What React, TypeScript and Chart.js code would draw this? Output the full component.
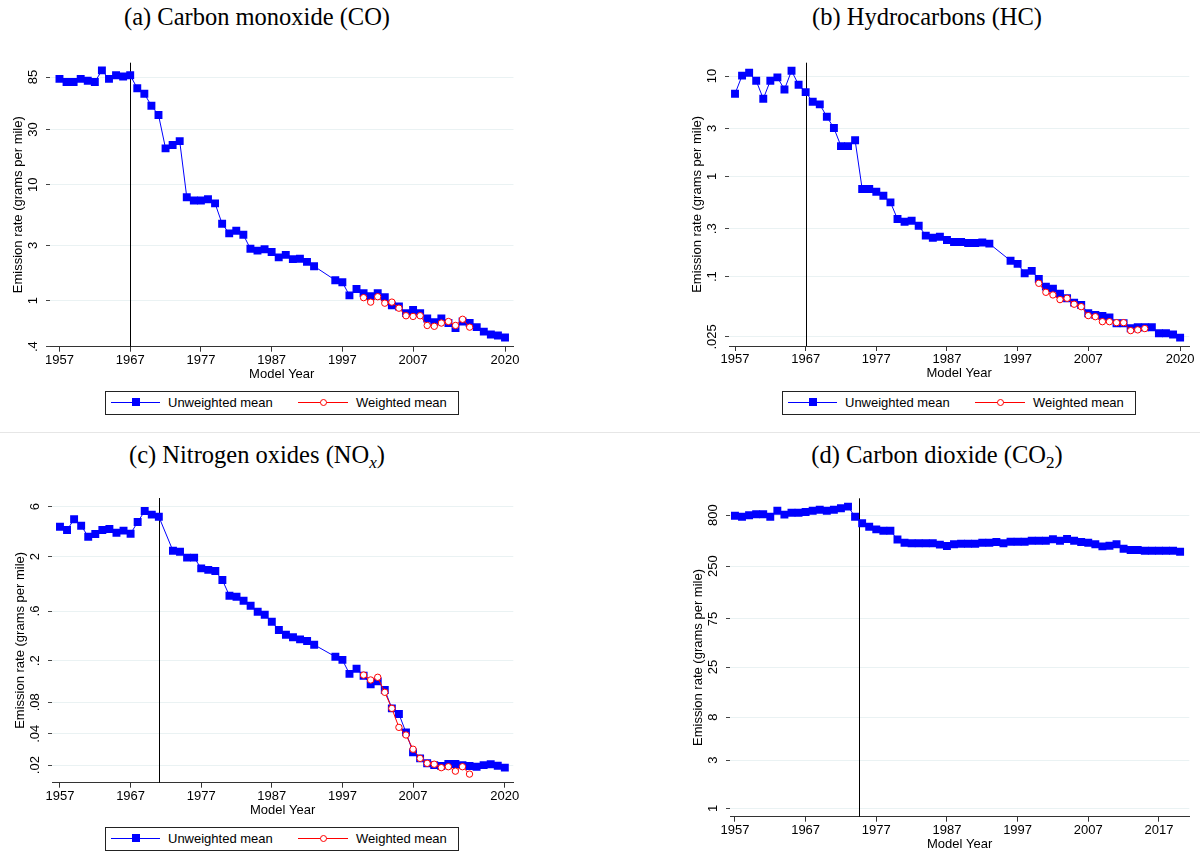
import React, { useEffect, useRef } from "react";
import { Chart, registerables } from "chart.js";
Chart.register(...registerables);

const range = (a: number, b: number): number[] => {
  const r: number[] = [];
  for (let y = a; y <= b; y++) r.push(y);
  return r;
};

// ---------- categories (model years) ----------
const yearsMain = [...range(1957, 1993), ...range(1996, 2020)];
const yearsNox = [...range(1957, 1971), ...range(1973, 1993), ...range(1996, 2020)];
const yearsCo2 = range(1957, 2020);
const yearsWeighted = range(2000, 2015);

const xTicksMain = [1957, 1967, 1977, 1987, 1997, 2007, 2020];
const xTicksCo2 = [1957, 1967, 1977, 1987, 1997, 2007, 2017];

// ---------- (a) Carbon monoxide ----------
const coUnweighted = [
  82, 77, 77, 82, 79, 77, 97, 82, 88, 86,
  88, 68, 61, 48, 40, 20.6, 22, 23.8, 7.8, 7.3,
  7.3, 7.5, 6.9, 4.6, 3.8, 4.0, 3.7, 2.8, 2.7, 2.77,
  2.63, 2.36, 2.48, 2.28, 2.3, 2.16, 1.98,
  1.5, 1.44, 1.11, 1.26, 1.16, 1.09, 1.16, 1.07, 0.91, 0.89,
  0.78, 0.83, 0.78, 0.7, 0.65, 0.7, 0.64, 0.58, 0.66, 0.64,
  0.59, 0.54, 0.51, 0.5, 0.48,
];
const coWeighted = [1.06, 0.97, 1.08, 0.95, 0.97, 0.86, 0.74, 0.73, 0.74, 0.61, 0.6, 0.64, 0.66, 0.61, 0.69, 0.59];
const coYTicks = [0.4, 1, 3, 10, 30, 85];
const coYLabels = [".4", "1", "3", "10", "30", "85"];

// ---------- (b) Hydrocarbons ----------
const hcUnweighted = [
  6.66, 10.1, 10.8, 8.98, 5.94, 8.98, 9.7, 7.36, 11.3, 8.19,
  6.92, 5.54, 5.22, 3.93, 3.03, 2.0, 2.0, 2.29, 0.747, 0.747,
  0.703, 0.641, 0.55, 0.375, 0.352, 0.36, 0.322, 0.256, 0.244, 0.25,
  0.232, 0.221, 0.221, 0.216, 0.216, 0.219, 0.213,
  0.144, 0.134, 0.108, 0.114, 0.0946, 0.0794, 0.0758, 0.0676, 0.0608, 0.055,
  0.0521, 0.043, 0.0414, 0.0405, 0.039, 0.0342, 0.0342, 0.0305, 0.0312, 0.0312,
  0.0312, 0.0272, 0.0272, 0.0264, 0.0246,
];
const hcWeighted = [0.0857, 0.0697, 0.0656, 0.0589, 0.0608, 0.053, 0.0501, 0.0408, 0.0398, 0.0355, 0.0355, 0.0347, 0.0347, 0.0289, 0.0294, 0.0303];
const hcYTicks = [0.025, 0.1, 0.3, 1, 3, 10];
const hcYLabels = [".025", ".1", ".3", "1", "3", "10"];

// ---------- (c) Nitrogen oxides ----------
const noxUnweighted = [
  3.86, 3.59, 4.55, 3.95, 3.1, 3.29, 3.59, 3.67, 3.38, 3.54, 3.31, 4.28, 5.46, 5.04, 4.82,
  2.27, 2.22, 1.95, 1.95, 1.54, 1.49, 1.45, 1.19, 0.842, 0.824,
  0.754, 0.675, 0.591, 0.553, 0.474, 0.395, 0.356, 0.336, 0.321, 0.31, 0.285,
  0.219, 0.204, 0.15, 0.168, 0.144, 0.119, 0.127, 0.105, 0.07, 0.0618,
  0.0412, 0.0265, 0.0232, 0.0208, 0.02, 0.0196, 0.0205, 0.0205, 0.02, 0.0196,
  0.0193, 0.02, 0.0204, 0.0197, 0.0189,
];
const noxWeighted = [0.146, 0.131, 0.139, 0.0998, 0.07, 0.046, 0.0389, 0.0284, 0.0232, 0.0208, 0.0204, 0.0189, 0.0193, 0.0175, 0.0193, 0.0164];
const noxYTicks = [0.02, 0.04, 0.08, 0.2, 0.6, 2, 6];
const noxYLabels = [".02", ".04", ".08", ".2", ".6", "2", "6"];

// ---------- (d) Carbon dioxide ----------
const co2Unweighted = [
  789, 771, 796, 815, 815, 771, 884, 808, 845, 845,
  859, 884, 904, 884, 904, 934, 970, 771, 663, 614,
  578, 560, 560, 458, 426, 421, 421, 421, 421, 408,
  396, 412, 417, 417, 417, 426, 426, 433, 421, 436,
  436, 436, 446, 446, 446, 461, 446, 464, 446, 433,
  426, 411, 392, 398, 411, 372, 361, 361, 355, 355,
  355, 355, 355, 347,
];
const co2YTicks = [1, 3, 8, 25, 75, 250, 800];
const co2YLabels = ["1", "3", "8", "25", "75", "250", "800"];

const SANS = '"Liberation Sans", Arial, Helvetica, sans-serif';
const SERIF = '"Liberation Serif", "Times New Roman", serif';
const BLUE = "#0000ff";
const RED = "#ff0000";

type Box = { left: number; top: number; width: number; height: number };
type Area = { left: number; right: number; top: number; bottom: number };
type Series = { x: number[]; y: number[]; kind: "u" | "w" };

type PanelProps = {
  canvas: Box;
  area: Area;
  xMin: number;
  xMax: number;
  xTicks: number[];
  yMin: number;
  yMax: number;
  yTicks: number[];
  yLabels: string[];
  series: Series[];
  vline: number;
};

function Panel(p: PanelProps) {
  const ref = useRef<HTMLCanvasElement | null>(null);
  useEffect(() => {
    const c = p.canvas;
    const a = p.area;
    const overlay = {
      id: "overlay",
      beforeDatasetsDraw(chart: any) {
        const ctx = chart.ctx;
        const x = Math.round(chart.scales.x.getPixelForValue(p.vline)) + 0.5;
        ctx.save();
        ctx.strokeStyle = "#000";
        ctx.lineWidth = 1;
        ctx.beginPath();
        ctx.moveTo(x, chart.chartArea.top);
        ctx.lineTo(x, chart.chartArea.bottom);
        ctx.stroke();
        ctx.restore();
      },
      afterDraw(chart: any) {
        const ctx = chart.ctx;
        const ca = chart.chartArea;
        const ys = chart.scales.y;
        ctx.save();
        ctx.fillStyle = "#000";
        ctx.font = `13px ${SANS}`;
        ctx.textAlign = "center";
        ctx.textBaseline = "middle";
        p.yTicks.forEach((v, i) => {
          const y = ys.getPixelForValue(v);
          ctx.save();
          ctx.translate(ca.left - 17, y);
          ctx.rotate(-Math.PI / 2);
          ctx.fillText(p.yLabels[i], 0, 0);
          ctx.restore();
        });
        ctx.save();
        ctx.translate(ca.left - 32, (ca.top + ca.bottom) / 2);
        ctx.rotate(-Math.PI / 2);
        ctx.fillText("Emission rate (grams per mile)", 0, 0);
        ctx.restore();
        ctx.fillText("Model Year", (ca.left + ca.right) / 2, ca.bottom + 27.5);
        ctx.restore();
      },
    };
    const datasets = p.series
      .slice()
      .sort((s1, s2) => (s1.kind === "w" ? -1 : 1) - (s2.kind === "w" ? -1 : 1))
      .map((s) => {
        const pts = s.x.map((x, i) => ({ x, y: s.y[i] }));
        if (s.kind === "u") {
          return {
            label: "Unweighted mean",
            data: pts,
            borderColor: BLUE,
            borderWidth: 1,
            pointStyle: "rect",
            pointRadius: 5.6,
            pointBorderWidth: 0,
            pointBackgroundColor: BLUE,
            pointBorderColor: BLUE,
            tension: 0,
            order: 1,
          };
        }
        return {
          label: "Weighted mean",
          data: pts,
          borderColor: RED,
          borderWidth: 1,
          pointStyle: "circle",
          pointRadius: 3.2,
          pointBorderWidth: 1,
          pointBackgroundColor: "#ffffff",
          pointBorderColor: RED,
          tension: 0,
          order: 0,
        };
      });
    const chart = new Chart(ref.current as HTMLCanvasElement, {
      type: "line",
      data: { datasets: datasets as any },
      options: {
        animation: false,
        responsive: false,
        maintainAspectRatio: false,
        layout: {
          padding: {
            left: 0,
            top: a.top - c.top,
            right: c.left + c.width - a.right,
            bottom: 0,
          },
        },
        plugins: {
          legend: { display: false },
          tooltip: { enabled: false },
          title: { display: false },
        },
        scales: {
          x: {
            type: "linear",
            min: p.xMin,
            max: p.xMax,
            afterBuildTicks: (ax: any) => {
              ax.ticks = p.xTicks.map((v) => ({ value: v }));
            },
            afterFit: (s: any) => {
              s.height = c.top + c.height - a.bottom;
            },
            grid: {
              drawOnChartArea: false,
              drawTicks: true,
              tickLength: 5,
              tickColor: "#333",
              lineWidth: 1,
            },
            border: { display: true, color: "#333", width: 1 },
            ticks: {
              color: "#000",
              font: { family: SANS, size: 13 },
              padding: 1,
              maxRotation: 0,
              minRotation: 0,
              autoSkip: false,
              callback: (v: any) => String(v),
            },
          },
          y: {
            type: "logarithmic",
            min: p.yMin,
            max: p.yMax,
            afterBuildTicks: (ax: any) => {
              ax.ticks = p.yTicks.map((v) => ({ value: v }));
            },
            afterFit: (s: any) => {
              s.width = a.left - c.left;
            },
            grid: {
              color: "#eaf2f3",
              lineWidth: 1,
              drawTicks: true,
              tickLength: 4,
              tickColor: "#444",
            },
            border: { display: false },
            ticks: { display: false },
          },
        },
      } as any,
      plugins: [overlay],
    });
    return () => chart.destroy();
  }, []);
  const c = p.canvas;
  return (
    <canvas
      ref={ref}
      width={c.width}
      height={c.height}
      style={{ position: "absolute", left: c.left, top: c.top, width: c.width, height: c.height }}
    />
  );
}

function Legend({ left, top }: { left: number; top: number }) {
  return (
    <div
      style={{
        position: "absolute",
        left,
        top,
        width: 354,
        height: 24,
        border: "1px solid #222",
        boxSizing: "border-box",
        fontFamily: SANS,
        fontSize: 13,
        color: "#000",
      }}
    >
      <div style={{ position: "absolute", left: 5, top: 10, width: 49, height: 1, background: BLUE }} />
      <div style={{ position: "absolute", left: 26, top: 6, width: 8, height: 8, background: BLUE }} />
      <span style={{ position: "absolute", left: 62, top: 3, lineHeight: "15px", whiteSpace: "nowrap" }}>
        Unweighted mean
      </span>
      <div style={{ position: "absolute", left: 192, top: 10, width: 50, height: 1, background: RED }} />
      <div
        style={{
          position: "absolute",
          left: 214,
          top: 7,
          width: 7,
          height: 7,
          border: `1px solid ${RED}`,
          borderRadius: "50%",
          background: "#fff",
          boxSizing: "border-box",
        }}
      />
      <span style={{ position: "absolute", left: 250, top: 3, lineHeight: "15px", whiteSpace: "nowrap" }}>
        Weighted mean
      </span>
    </div>
  );
}

function Title({ cx, cy, children }: { cx: number; cy: number; children: React.ReactNode }) {
  return (
    <div
      style={{
        position: "absolute",
        left: cx,
        top: cy - 13,
        transform: "translateX(-50%)",
        fontFamily: SERIF,
        fontSize: 24.5,
        lineHeight: "26px",
        whiteSpace: "nowrap",
        color: "#000",
      }}
    >
      {children}
    </div>
  );
}

const subStyle: React.CSSProperties = { fontSize: "0.7em", position: "relative", top: "0.3em", lineHeight: 0 };

export default function App() {
  return (
    <div
      style={{
        position: "absolute",
        left: 0,
        top: 0,
        width: 1200,
        height: 853,
        background: "#fff",
        overflow: "hidden",
      }}
    >
      <Title cx={257} cy={17}>(a) Carbon monoxide (CO)</Title>
      <Title cx={927} cy={17}>(b) Hydrocarbons (HC)</Title>
      <Title cx={257} cy={455}>
        (c) Nitrogen oxides (NO<span style={{ ...subStyle, fontStyle: "italic" }}>x</span>)
      </Title>
      <Title cx={937} cy={455}>
        (d) Carbon dioxide (CO<span style={subStyle}>2</span>)
      </Title>

      <div style={{ position: "absolute", left: 0, top: 432, width: 1200, height: 1, background: "#e6e6e6" }} />

      <Panel
        canvas={{ left: 0, top: 36, width: 540, height: 350 }}
        area={{ left: 50, right: 513.5, top: 62.7, bottom: 346.7 }}
        xMin={1955.66}
        xMax={2021.2}
        xTicks={xTicksMain}
        yMin={0.4}
        yMax={113}
        yTicks={coYTicks}
        yLabels={coYLabels}
        series={[
          { x: yearsMain, y: coUnweighted, kind: "u" },
          { x: yearsWeighted, y: coWeighted, kind: "w" },
        ]}
        vline={1967}
      />
      <Legend left={105} top={391} />

      <Panel
        canvas={{ left: 660, top: 36, width: 540, height: 350 }}
        area={{ left: 729, right: 1189.3, top: 62.7, bottom: 346 }}
        xMin={1956.15}
        xMax={2021.3}
        xTicks={xTicksMain}
        yMin={0.0203}
        yMax={13.6}
        yTicks={hcYTicks}
        yLabels={hcYLabels}
        series={[
          { x: yearsMain, y: hcUnweighted, kind: "u" },
          { x: yearsWeighted, y: hcWeighted, kind: "w" },
        ]}
        vline={1967}
      />
      <Legend left={782} top={391} />

      <Panel
        canvas={{ left: 0, top: 472, width: 540, height: 350 }}
        area={{ left: 52, right: 513.3, top: 498, bottom: 782.7 }}
        xMin={1955.87}
        xMax={2021.2}
        xTicks={xTicksMain}
        yMin={0.01356}
        yMax={7.28}
        yTicks={noxYTicks}
        yLabels={noxYLabels}
        series={[
          { x: yearsNox, y: noxUnweighted, kind: "u" },
          { x: yearsWeighted, y: noxWeighted, kind: "w" },
        ]}
        vline={1971}
      />
      <Legend left={105} top={827} />

      <Panel
        canvas={{ left: 660, top: 472, width: 540, height: 381 }}
        area={{ left: 730, right: 1189.3, top: 498.3, bottom: 816.7 }}
        xMin={1956.3}
        xMax={2021.3}
        xTicks={xTicksCo2}
        yMin={0.826}
        yMax={1173}
        yTicks={co2YTicks}
        yLabels={co2YLabels}
        series={[{ x: yearsCo2, y: co2Unweighted, kind: "u" }]}
        vline={1974.5}
      />
    </div>
  );
}
